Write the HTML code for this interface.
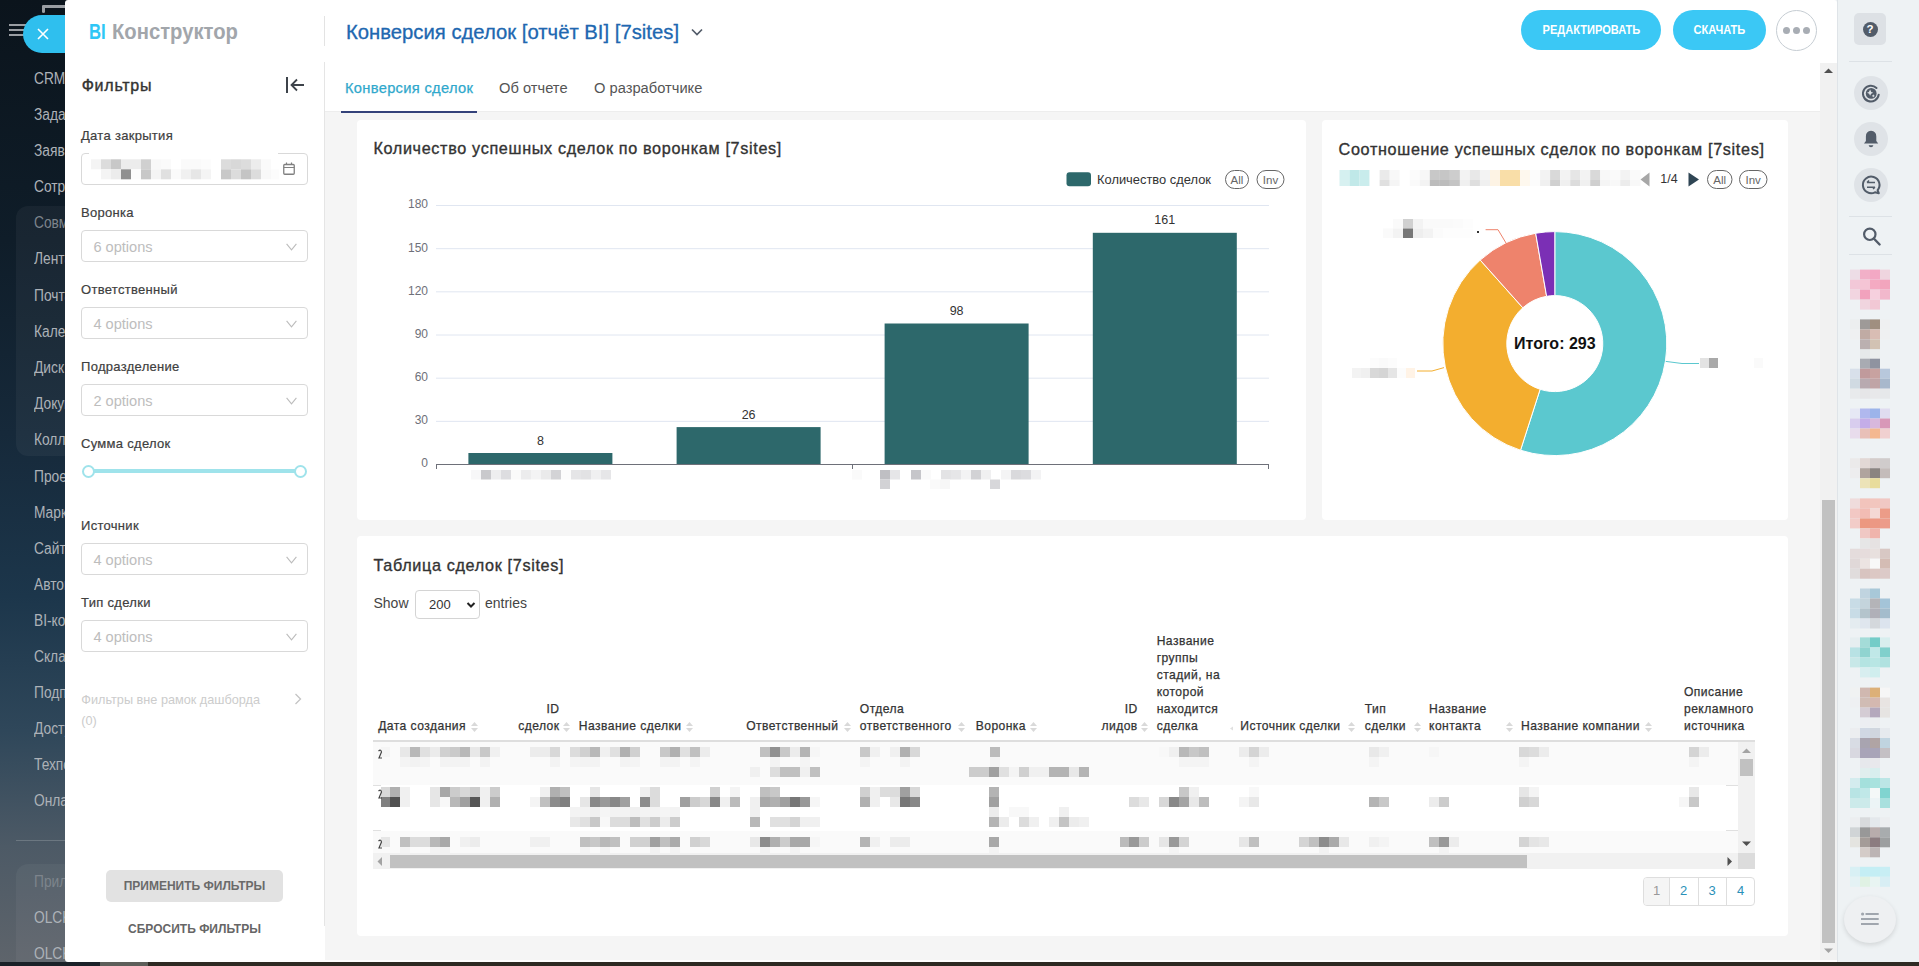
<!DOCTYPE html>
<html><head><meta charset="utf-8">
<style>
*{box-sizing:border-box}
html,body{margin:0;padding:0}
body{width:1919px;height:966px;overflow:hidden;position:relative;background:#0c161f;font-family:"Liberation Sans",sans-serif;color:#333}
.abs{position:absolute}
.t{position:absolute;white-space:nowrap}
.btn{position:absolute;top:10px;height:40px;border-radius:20px;background:#3bc8f5;color:#fff;font-weight:bold;font-size:13px;line-height:40px;text-align:center}
.btn span{display:inline-block;transform:scaleX(0.85)}
.lbl{position:absolute;left:81px;font-size:13px;line-height:13px;color:#404040;-webkit-text-stroke:0.2px #404040;margin-top:-0.8px;letter-spacing:0.3px;white-space:nowrap}
.box{position:absolute;left:81px;width:227px;height:32px;border:1px solid #d9d9d9;border-radius:4px;background:#fff}
.box span{position:absolute;left:11.4px;top:8.5px;font-size:14.6px;line-height:14.6px;color:#bdbdbd;white-space:nowrap}
.box svg{position:absolute;left:204px;top:12px}
.tab{top:80.9px;font-size:14.7px;line-height:15px;color:#555}
.tab:first-of-type{}
.ctitle{font-size:16.2px;line-height:16.2px;color:#333;-webkit-text-stroke:0.35px #333;letter-spacing:0.66px}
.th{font-size:12.1px;line-height:16.9px;color:#333;-webkit-text-stroke:0.25px #333;letter-spacing:0.45px}
.pg{top:6px;text-align:center;font-size:13px;line-height:14px;color:#2a90b8}
.card{position:absolute;background:#fff;border-radius:4px}

#nav{left:0;top:0;width:70px;height:962px;background:linear-gradient(180deg,#0b141c 0%,#0f1d29 25%,#16293a 45%,#1c364b 62%,#2f475a 76%,#4d5a66 88%,#5e646b 100%)}
#nav .it{position:absolute;left:34px;font-size:16px;color:#adb2b8;white-space:nowrap;line-height:18px;margin-top:0.5px;transform:scaleX(0.86);transform-origin:0 0}
#nav .dim{color:#7d848c}
#strip{left:0;top:962px;width:1919px;height:4px;background:#2e2a23}
#panel{left:65px;top:0;width:1772px;height:962px;background:#fff;border-radius:3px 3px 0 3px;overflow:hidden}
#rbar{left:1837px;top:0;width:82px;height:962px;background:#eef2f4;border-left:1px solid #dfe4e8}
</style></head>
<body>
<div id="nav" class="abs">
  <div class="abs" style="left:9px;top:24px;width:17px;height:2px;background:#9a9ea3"></div>
  <div class="abs" style="left:9px;top:29px;width:17px;height:2px;background:#9a9ea3"></div>
  <div class="abs" style="left:9px;top:34px;width:17px;height:2px;background:#9a9ea3"></div>
  <div class="abs" style="left:16px;top:206px;width:60px;height:250px;border-radius:12px;background:rgba(255,255,255,0.045)"></div>
  <div class="abs" style="left:16px;top:864px;width:60px;height:110px;border-radius:12px;background:rgba(255,255,255,0.045)"></div>
  <div class="abs" style="left:16px;top:840px;width:60px;height:1px;background:rgba(255,255,255,0.18)"></div>
  <div class="it" style="top:69px">CRM</div>
  <div class="it" style="top:105px">Задачи</div>
  <div class="it" style="top:141px">Заявки</div>
  <div class="it" style="top:177px">Сотрудники</div>
  <div class="it dim" style="top:213px">Совместная</div>
  <div class="it" style="top:249px">Лента</div>
  <div class="it" style="top:286px">Почта</div>
  <div class="it" style="top:322px">Календарь</div>
  <div class="it" style="top:358px">Диск</div>
  <div class="it" style="top:394px">Документы</div>
  <div class="it" style="top:430px">Коллеги</div>
  <div class="it" style="top:467px">Проекты</div>
  <div class="it" style="top:503px">Маркетинг</div>
  <div class="it" style="top:539px">Сайты</div>
  <div class="it" style="top:575px">Автоматизация</div>
  <div class="it" style="top:611px">BI-конструктор</div>
  <div class="it" style="top:647px">Склад</div>
  <div class="it" style="top:683px">Подписка</div>
  <div class="it" style="top:719px">Доступ</div>
  <div class="it" style="top:755px">Техподдержка</div>
  <div class="it" style="top:791px">Онлайн</div>
  <div class="it dim" style="top:872px">Приложения</div>
  <div class="it" style="top:908px">OLCK</div>
  <div class="it" style="top:944px">OLCK</div>
</div>
<div id="strip" class="abs"></div>
<div class="abs" style="left:0;top:962px;width:100px;height:4px;background:#1a2128"></div>
<div class="abs" style="left:100px;top:962px;width:48px;height:4px;background:#5d5f5a"></div>
<!-- close pill -->
<div class="abs" style="left:23px;top:15px;width:70px;height:38px;border-radius:19px;background:#2fbfee"></div>
<div class="abs" style="left:42px;top:5px;width:30px;height:3px;background:#9a9ea3;border-radius:2px"></div>
<div class="abs" style="left:42px;top:5px;width:3px;height:8px;background:#9a9ea3;border-radius:2px"></div>
<svg class="abs" style="left:37px;top:28px" width="12" height="12" viewBox="0 0 12 12"><path d="M1 1L11 11M11 1L1 11" stroke="#fff" stroke-width="1.6"/></svg>

<div class="abs" style="left:1800px;top:0;width:60px;height:20px;background:#eef2f4"></div>
<div id="panel" class="abs"></div>
<!-- header -->
<div class="t" style="left:88.6px;top:20.6px;font-size:22px;line-height:22px;font-weight:bold;color:#2fc6f6;transform:scaleX(0.76);transform-origin:0 0">BI</div>
<div class="t" style="left:111.7px;top:20.6px;font-size:22px;line-height:22px;font-weight:bold;color:#a2a6ab;transform:scaleX(0.92);transform-origin:0 0">Конструктор</div>
<div class="abs" style="left:324px;top:16px;width:1px;height:30px;background:#e3e3e3"></div>
<div class="t" style="left:345.9px;top:22.3px;font-size:20.3px;line-height:20px;color:#2067b0;-webkit-text-stroke:0.3px #2067b0">Конверсия сделок [отчёт BI] [7sites]</div>
<svg class="abs" style="left:690px;top:27px" width="14" height="10" viewBox="0 0 14 10"><path d="M2 2.5L7 7.5L12 2.5" fill="none" stroke="#535c69" stroke-width="1.7"/></svg>
<div class="btn" style="left:1521px;width:140px"><span>РЕДАКТИРОВАТЬ</span></div>
<div class="btn" style="left:1673px;width:93px"><span>СКАЧАТЬ</span></div>
<div class="abs" style="left:1776px;top:10px;width:41px;height:41px;border-radius:50%;border:1px solid #c6cdd3;background:#fff"></div>
<div class="abs" style="left:1783px;top:27px;width:7px;height:7px;border-radius:50%;background:#a8adb4"></div>
<div class="abs" style="left:1793px;top:27px;width:7px;height:7px;border-radius:50%;background:#a8adb4"></div>
<div class="abs" style="left:1803px;top:27px;width:7px;height:7px;border-radius:50%;background:#a8adb4"></div>

<!-- filters -->
<div class="t" style="left:81.7px;top:77.5px;font-size:16px;line-height:16px;color:#333;-webkit-text-stroke:0.4px #333;letter-spacing:0.75px">Фильтры</div>
<div class="abs" style="left:286px;top:77px;width:2px;height:16px;background:#3d434a"></div>
<svg class="abs" style="left:289px;top:78px" width="16" height="14" viewBox="0 0 16 14"><path d="M15 7H2.5M8 1.5L2.5 7L8 12.5" fill="none" stroke="#3d434a" stroke-width="1.8"/></svg>
<div class="lbl" style="top:129.7px">Дата закрытия</div>
<div class="box" style="top:153px;height:32px"></div>
<div class="abs" style="left:89px;top:153px;width:189px;height:1px;background:#fff"></div>
<svg class="abs" style="left:283px;top:162px" width="12" height="13" viewBox="0 0 12 13"><rect x="0.75" y="2.5" width="10.5" height="9.75" rx="1" fill="none" stroke="#808080" stroke-width="1.3"/><path d="M0.75 5.5H11.25M3.5 0.5V3M8.5 0.5V3" stroke="#808080" stroke-width="1.2"/></svg>
<div class="lbl" style="top:206.8px">Воронка</div>
<div class="box" style="top:230px"><span>6 options</span><svg width="11" height="8" viewBox="0 0 11 8"><path d="M0.6 0.8L5.5 6.8L10.4 0.8" fill="none" stroke="#bcbcbc" stroke-width="1.1"/></svg></div>
<div class="lbl" style="top:283.3px">Ответственный</div>
<div class="box" style="top:307px"><span>4 options</span><svg width="11" height="8" viewBox="0 0 11 8"><path d="M0.6 0.8L5.5 6.8L10.4 0.8" fill="none" stroke="#bcbcbc" stroke-width="1.1"/></svg></div>
<div class="lbl" style="top:360.3px">Подразделение</div>
<div class="box" style="top:384px"><span>2 options</span><svg width="11" height="8" viewBox="0 0 11 8"><path d="M0.6 0.8L5.5 6.8L10.4 0.8" fill="none" stroke="#bcbcbc" stroke-width="1.1"/></svg></div>
<div class="lbl" style="top:437.3px">Сумма сделок</div>
<div class="abs" style="left:88px;top:469px;width:213px;height:4px;background:#9fe3eb"></div>
<div class="abs" style="left:81.5px;top:464.5px;width:13px;height:13px;border-radius:50%;border:2.5px solid #9fe3eb;background:#fff"></div>
<div class="abs" style="left:294px;top:464.5px;width:13px;height:13px;border-radius:50%;border:2.5px solid #9fe3eb;background:#fff"></div>
<div class="lbl" style="top:519.3px">Источник</div>
<div class="box" style="top:543px"><span>4 options</span><svg width="11" height="8" viewBox="0 0 11 8"><path d="M0.6 0.8L5.5 6.8L10.4 0.8" fill="none" stroke="#bcbcbc" stroke-width="1.1"/></svg></div>
<div class="lbl" style="top:596.3px">Тип сделки</div>
<div class="box" style="top:620px"><span>4 options</span><svg width="11" height="8" viewBox="0 0 11 8"><path d="M0.6 0.8L5.5 6.8L10.4 0.8" fill="none" stroke="#bcbcbc" stroke-width="1.1"/></svg></div>
<div class="t" style="left:81.3px;top:693.7px;font-size:12.7px;line-height:21px;color:#cccccc;margin-top:-4.2px">Фильтры вне рамок дашборда<br>(0)</div>
<svg class="abs" style="left:293px;top:692px" width="10" height="14" viewBox="0 0 10 14"><path d="M2.5 2L7.5 7L2.5 12" fill="none" stroke="#c4c4c4" stroke-width="1.3"/></svg>
<div class="abs" style="left:106px;top:870px;width:177px;height:32px;border-radius:5px;background:#e2e2e2"></div>
<div class="t" style="left:106px;width:177px;text-align:center;top:879.8px;font-size:12px;line-height:12px;font-weight:bold;color:#6a6a6a">ПРИМЕНИТЬ ФИЛЬТРЫ</div>
<div class="t" style="left:106px;width:177px;text-align:center;top:922.8px;font-size:12px;line-height:12px;font-weight:bold;color:#666">СБРОСИТЬ ФИЛЬТРЫ</div>
<div class="abs" style="left:324px;top:62px;width:1px;height:864px;background:#e5e5e5"></div>

<!-- content area -->
<div class="abs" style="left:325px;top:112px;width:1495px;height:848px;background:#f5f5f5"></div>
<div class="abs" style="left:325px;top:111px;width:1495px;height:1px;background:#ededed"></div>
<div class="t tab" style="left:345px;color:#2fa8cc;letter-spacing:0.3px;-webkit-text-stroke:0.25px #2fa8cc">Конверсия сделок</div>
<div class="t tab" style="left:499px">Об отчете</div>
<div class="t tab" style="left:594px">О разработчике</div>
<div class="abs" style="left:341px;top:111px;width:136px;height:2px;background:#34427a"></div>
<!-- page scrollbar -->
<div class="abs" style="left:1820px;top:63px;width:17px;height:897px;background:#f1f1f1"></div>
<div class="abs" style="left:1822px;top:500px;width:13px;height:443px;background:#c1c1c1"></div>
<svg class="abs" style="left:1824px;top:68px" width="9" height="6" viewBox="0 0 9 6"><path d="M0 5L4.5 0.5L9 5Z" fill="#505050"/></svg>
<svg class="abs" style="left:1824px;top:948px" width="9" height="6" viewBox="0 0 9 6"><path d="M0 0.5L4.5 5L9 0.5Z" fill="#a3a3a3"/></svg>

<!-- cards -->
<div class="card" style="left:357px;top:120px;width:949px;height:400px"></div>
<svg class="abs" style="left:357px;top:120px" width="949" height="400" viewBox="357 120 949 400">
<line x1="436" y1="205.50" x2="1269" y2="205.50" stroke="#e0e6f1" stroke-width="1"/>
<line x1="436" y1="248.67" x2="1269" y2="248.67" stroke="#e0e6f1" stroke-width="1"/>
<line x1="436" y1="291.84" x2="1269" y2="291.84" stroke="#e0e6f1" stroke-width="1"/>
<line x1="436" y1="335.01" x2="1269" y2="335.01" stroke="#e0e6f1" stroke-width="1"/>
<line x1="436" y1="378.18" x2="1269" y2="378.18" stroke="#e0e6f1" stroke-width="1"/>
<line x1="436" y1="421.35" x2="1269" y2="421.35" stroke="#e0e6f1" stroke-width="1"/>
<text x="428" y="208.3" text-anchor="end" font-size="12" fill="#6e7079">180</text>
<text x="428" y="251.5" text-anchor="end" font-size="12" fill="#6e7079">150</text>
<text x="428" y="294.6" text-anchor="end" font-size="12" fill="#6e7079">120</text>
<text x="428" y="337.8" text-anchor="end" font-size="12" fill="#6e7079">90</text>
<text x="428" y="381.0" text-anchor="end" font-size="12" fill="#6e7079">60</text>
<text x="428" y="424.2" text-anchor="end" font-size="12" fill="#6e7079">30</text>
<text x="428" y="467.3" text-anchor="end" font-size="12" fill="#6e7079">0</text>
<rect x="436" y="464" width="833" height="1" fill="#6e7079"/>
<rect x="436.0" y="464" width="1" height="5" fill="#6e7079"/>
<rect x="852.0" y="464" width="1" height="5" fill="#6e7079"/>
<rect x="1268.0" y="464" width="1" height="5" fill="#6e7079"/>
<rect x="468.4" y="453.0" width="144" height="11.0" fill="#2d686b"/>
<text x="540.4" y="444.5" text-anchor="middle" font-size="12.5" fill="#333">8</text>
<rect x="676.6" y="427.1" width="144" height="36.9" fill="#2d686b"/>
<text x="748.6" y="418.6" text-anchor="middle" font-size="12.5" fill="#333">26</text>
<rect x="884.6" y="323.5" width="144" height="140.5" fill="#2d686b"/>
<text x="956.6" y="315.0" text-anchor="middle" font-size="12.5" fill="#333">98</text>
<rect x="1092.8" y="232.8" width="144" height="231.2" fill="#2d686b"/>
<text x="1164.8" y="224.3" text-anchor="middle" font-size="12.5" fill="#333">161</text>
<rect x="1066.5" y="172.3" width="24.5" height="14" rx="3" fill="#2d686b"/>
<text x="1097" y="184" font-size="12.9" fill="#333">Количество сделок</text>
<rect x="1225.5" y="170.5" width="23" height="18" rx="9" fill="none" stroke="#666" stroke-width="1"/>
<text x="1237" y="183.5" text-anchor="middle" font-size="11.5" fill="#666">All</text>
<rect x="1257" y="170.5" width="27" height="18" rx="9" fill="none" stroke="#666" stroke-width="1"/>
<text x="1270.5" y="183.5" text-anchor="middle" font-size="11.5" fill="#666">Inv</text>
<rect x="471" y="470" width="10" height="9.5" fill="#f7f7f8"/>
<rect x="481" y="470" width="10" height="9.5" fill="#c9c9cc"/>
<rect x="491" y="470" width="10" height="9.5" fill="#eeeeef"/>
<rect x="501" y="470" width="10" height="9.5" fill="#dddde0"/>
<rect x="511" y="470" width="10" height="9.5" fill="#fafafa"/>
<rect x="521" y="470" width="10" height="9.5" fill="#ececed"/>
<rect x="531" y="470" width="10" height="9.5" fill="#f3f3f4"/>
<rect x="541" y="470" width="10" height="9.5" fill="#eaeaeb"/>
<rect x="551" y="470" width="10" height="9.5" fill="#d3d3d6"/>
<rect x="561" y="470" width="10" height="9.5" fill="#fcfcfc"/>
<rect x="571" y="470" width="10" height="9.5" fill="#e5e5e7"/>
<rect x="581" y="470" width="10" height="9.5" fill="#e2e2e4"/>
<rect x="591" y="470" width="10" height="9.5" fill="#f0f0f1"/>
<rect x="601" y="470" width="10" height="9.5" fill="#e6e6e8"/>
<rect x="852" y="470" width="10" height="9.5" fill="#fafafa"/>
<rect x="880" y="470" width="10" height="9.5" fill="#bfbfc3"/>
<rect x="890" y="470" width="10" height="9.5" fill="#e6e6e8"/>
<rect x="911" y="470" width="10" height="9.5" fill="#c6c6ca"/>
<rect x="921" y="470" width="10" height="9.5" fill="#fafafa"/>
<rect x="941" y="470" width="10" height="9.5" fill="#e3e3e5"/>
<rect x="951" y="470" width="10" height="9.5" fill="#e6e6e8"/>
<rect x="961" y="470" width="10" height="9.5" fill="#f3f3f4"/>
<rect x="971" y="470" width="10" height="9.5" fill="#d2d2d5"/>
<rect x="981" y="470" width="10" height="9.5" fill="#f0f0f1"/>
<rect x="1001" y="470" width="10" height="9.5" fill="#f4f4f5"/>
<rect x="1011" y="470" width="10" height="9.5" fill="#d9d9dc"/>
<rect x="1021" y="470" width="10" height="9.5" fill="#dcdcdf"/>
<rect x="1031" y="470" width="10" height="9.5" fill="#f3f3f4"/>
<rect x="880" y="479.5" width="10" height="9.5" fill="#d2d2d5"/>
<rect x="930" y="479.5" width="10" height="9.5" fill="#fafafa"/>
<rect x="940" y="479.5" width="10" height="9.5" fill="#f7f7f7"/>
<rect x="990" y="479.5" width="10" height="9.5" fill="#d7d7da"/>
</svg>
<div class="t ctitle" style="left:373.4px;top:140.4px">Количество успешных сделок по воронкам [7sites]</div>
<div class="card" style="left:1322px;top:120px;width:466px;height:400px"></div>
<svg class="abs" style="left:1322px;top:120px" width="466" height="400" viewBox="1322 120 466 400">
<path d="M1554.80 231.60A112 112 0 1 1 1520.53 450.23L1540.11 389.30A48 48 0 1 0 1554.80 295.60Z" fill="#5bc8cf" stroke="#fff" stroke-width="1"/>
<path d="M1520.53 450.23A112 112 0 0 1 1480.19 260.07L1522.82 307.80A48 48 0 0 0 1540.11 389.30Z" fill="#f3ae2f" stroke="#fff" stroke-width="1"/>
<path d="M1480.19 260.07A112 112 0 0 1 1535.68 233.24L1546.61 296.30A48 48 0 0 0 1522.82 307.80Z" fill="#ee836c" stroke="#fff" stroke-width="1"/>
<path d="M1535.68 233.24A112 112 0 0 1 1554.80 231.60L1554.80 295.60A48 48 0 0 0 1546.61 296.30Z" fill="#7b2fb5" stroke="#fff" stroke-width="1"/>
<text x="1554.8" y="348.5" text-anchor="middle" font-size="16" font-weight="bold" fill="#111">Итого: 293</text>
<polyline points="1506,243 1498,229.7 1485.6,229.7" fill="none" stroke="#ee836c" stroke-width="1"/>
<polyline points="1444,367.6 1432,371 1417,371" fill="none" stroke="#f3ae2f" stroke-width="1"/>
<polyline points="1665.8,361.4 1682,363.5 1699,363.5" fill="none" stroke="#5bc8cf" stroke-width="1"/>
<rect x="1393" y="219.0" width="10" height="9.5" fill="#fafafa"/>
<rect x="1403" y="219.0" width="10" height="9.5" fill="#d0d0d0"/>
<rect x="1413" y="219.0" width="10" height="9.5" fill="#f3f3f3"/>
<rect x="1423" y="219.0" width="10" height="9.5" fill="#fafafa"/>
<rect x="1433" y="219.0" width="10" height="9.5" fill="#fafafa"/>
<rect x="1443" y="219.0" width="10" height="9.5" fill="#fafafa"/>
<rect x="1453" y="219.0" width="10" height="9.5" fill="#fbfbfb"/>
<rect x="1463" y="219.0" width="10" height="9.5" fill="#fdfdfd"/>
<rect x="1383" y="228.5" width="10" height="9.5" fill="#fafafa"/>
<rect x="1393" y="228.5" width="10" height="9.5" fill="#f3f3f3"/>
<rect x="1403" y="228.5" width="10" height="9.5" fill="#777"/>
<rect x="1413" y="228.5" width="10" height="9.5" fill="#eeeeee"/>
<rect x="1423" y="228.5" width="10" height="9.5" fill="#f3f3f3"/>
<rect x="1433" y="228.5" width="10" height="9.5" fill="#fbfbfb"/>
<rect x="1443" y="228.5" width="10" height="9.5" fill="#fdfdfd"/>
<rect x="1453" y="228.5" width="10" height="9.5" fill="#fdfdfd"/>
<rect x="1463" y="228.5" width="10" height="9.5" fill="#fdfdfd"/>
<rect x="1477" y="231" width="2" height="2" fill="#333"/>
<rect x="1370" y="358" width="9" height="10" fill="#fcfcfc"/>
<rect x="1379" y="358" width="9" height="10" fill="#fafafa"/>
<rect x="1388" y="358" width="9" height="10" fill="#fcfcfc"/>
<rect x="1352" y="368" width="9" height="10" fill="#f3f3f3"/>
<rect x="1361" y="368" width="9" height="10" fill="#f0f0f0"/>
<rect x="1370" y="368" width="9" height="10" fill="#d8d8d8"/>
<rect x="1379" y="368" width="9" height="10" fill="#d5d5d5"/>
<rect x="1388" y="368" width="9" height="10" fill="#e5e5e5"/>
<rect x="1397" y="368" width="9" height="10" fill="#fcfcfc"/>
<rect x="1406" y="368" width="9" height="10" fill="#fff3e6"/>
<rect x="1700" y="358" width="9" height="10" fill="#e3e3e3"/>
<rect x="1709" y="358" width="9" height="10" fill="#a9a9a9"/>
<rect x="1754" y="358" width="9" height="10" fill="#fafafa"/>
<rect x="1339.5" y="170" width="10.1" height="10" fill="#d5f0f0"/>
<rect x="1339.5" y="180" width="10.1" height="6" fill="#d8f1f1"/>
<rect x="1349.5" y="170" width="10.1" height="10" fill="#bfe8e8"/>
<rect x="1349.5" y="180" width="10.1" height="6" fill="#c2e9e9"/>
<rect x="1359.6" y="170" width="10.1" height="10" fill="#c8ecec"/>
<rect x="1359.6" y="180" width="10.1" height="6" fill="#cbeded"/>
<rect x="1369.6" y="170" width="10.1" height="10" fill="#ffffff"/>
<rect x="1369.6" y="180" width="10.1" height="6" fill="#ffffff"/>
<rect x="1379.6" y="170" width="10.1" height="10" fill="#eaeaea"/>
<rect x="1379.6" y="180" width="10.1" height="6" fill="#e0e0e0"/>
<rect x="1389.7" y="170" width="10.1" height="10" fill="#f8f8f8"/>
<rect x="1389.7" y="180" width="10.1" height="6" fill="#f5f5f5"/>
<rect x="1399.7" y="170" width="10.1" height="10" fill="#ffffff"/>
<rect x="1399.7" y="180" width="10.1" height="6" fill="#ffffff"/>
<rect x="1409.7" y="170" width="10.1" height="10" fill="#fcfcfc"/>
<rect x="1409.7" y="180" width="10.1" height="6" fill="#fafafa"/>
<rect x="1419.7" y="170" width="10.1" height="10" fill="#f7f7f7"/>
<rect x="1419.7" y="180" width="10.1" height="6" fill="#f3f3f3"/>
<rect x="1429.8" y="170" width="10.1" height="10" fill="#c8c8c8"/>
<rect x="1429.8" y="180" width="10.1" height="6" fill="#bcbcbc"/>
<rect x="1439.8" y="170" width="10.1" height="10" fill="#c6c6c6"/>
<rect x="1439.8" y="180" width="10.1" height="6" fill="#bcbcbc"/>
<rect x="1449.8" y="170" width="10.1" height="10" fill="#cdcdcd"/>
<rect x="1449.8" y="180" width="10.1" height="6" fill="#c4c4c4"/>
<rect x="1459.9" y="170" width="10.1" height="10" fill="#f3f3f3"/>
<rect x="1459.9" y="180" width="10.1" height="6" fill="#f0f0f0"/>
<rect x="1469.9" y="170" width="10.1" height="10" fill="#e8e8e8"/>
<rect x="1469.9" y="180" width="10.1" height="6" fill="#dedede"/>
<rect x="1479.9" y="170" width="10.1" height="10" fill="#f3f3f3"/>
<rect x="1479.9" y="180" width="10.1" height="6" fill="#f0f0f0"/>
<rect x="1490.0" y="170" width="10.1" height="10" fill="#fdf3e4"/>
<rect x="1490.0" y="180" width="10.1" height="6" fill="#fdf3e4"/>
<rect x="1500.0" y="170" width="10.1" height="10" fill="#f9dea8"/>
<rect x="1500.0" y="180" width="10.1" height="6" fill="#f9dea8"/>
<rect x="1510.0" y="170" width="10.1" height="10" fill="#f9dea8"/>
<rect x="1510.0" y="180" width="10.1" height="6" fill="#f9dea8"/>
<rect x="1520.0" y="170" width="10.1" height="10" fill="#fef8ee"/>
<rect x="1520.0" y="180" width="10.1" height="6" fill="#fef8ee"/>
<rect x="1530.1" y="170" width="10.1" height="10" fill="#fcfcfc"/>
<rect x="1530.1" y="180" width="10.1" height="6" fill="#fcfcfc"/>
<rect x="1540.1" y="170" width="10.1" height="10" fill="#f3f3f3"/>
<rect x="1540.1" y="180" width="10.1" height="6" fill="#f0f0f0"/>
<rect x="1550.1" y="170" width="10.1" height="10" fill="#d9d9d9"/>
<rect x="1550.1" y="180" width="10.1" height="6" fill="#d0d0d0"/>
<rect x="1560.2" y="170" width="10.1" height="10" fill="#f3f3f3"/>
<rect x="1560.2" y="180" width="10.1" height="6" fill="#f0f0f0"/>
<rect x="1570.2" y="170" width="10.1" height="10" fill="#e6e6e6"/>
<rect x="1570.2" y="180" width="10.1" height="6" fill="#dcdcdc"/>
<rect x="1580.2" y="170" width="10.1" height="10" fill="#f3f3f3"/>
<rect x="1580.2" y="180" width="10.1" height="6" fill="#f0f0f0"/>
<rect x="1590.2" y="170" width="10.1" height="10" fill="#d9d9d9"/>
<rect x="1590.2" y="180" width="10.1" height="6" fill="#cfcfcf"/>
<rect x="1600.3" y="170" width="10.1" height="10" fill="#f8f8f8"/>
<rect x="1600.3" y="180" width="10.1" height="6" fill="#f5f5f5"/>
<rect x="1610.3" y="170" width="10.1" height="10" fill="#fafafa"/>
<rect x="1610.3" y="180" width="10.1" height="6" fill="#f8f8f8"/>
<rect x="1620.3" y="170" width="10.1" height="10" fill="#f3f3f3"/>
<rect x="1620.3" y="180" width="10.1" height="6" fill="#ececec"/>
<rect x="1630.4" y="170" width="10.1" height="10" fill="#fafafa"/>
<rect x="1630.4" y="180" width="10.1" height="6" fill="#f8f8f8"/>
<path d="M1649.5 172.5L1640.5 179.5L1649.5 186.5Z" fill="#a7a7a7"/>
<text x="1669" y="182.5" text-anchor="middle" font-size="12.5" fill="#333">1/4</text>
<path d="M1688.5 172.5L1699 179.5L1688.5 186.5Z" fill="#2f4554"/>
<rect x="1707.5" y="170.5" width="24.5" height="18" rx="9" fill="none" stroke="#666" stroke-width="1"/>
<text x="1719.7" y="183.5" text-anchor="middle" font-size="11.5" fill="#666">All</text>
<rect x="1739.5" y="170.5" width="27.5" height="18" rx="9" fill="none" stroke="#666" stroke-width="1"/>
<text x="1753.2" y="183.5" text-anchor="middle" font-size="11.5" fill="#666">Inv</text>
</svg>
<div class="t ctitle" style="left:1338.6px;top:141.3px">Соотношение успешных сделок по воронкам [7sites]</div>
<div class="card" style="left:357px;top:536px;width:1431px;height:400px"></div>

<div id="rbar" class="abs">
</div>
<div class="t ctitle" style="left:373.5px;top:556.6px">Таблица сделок [7sites]</div>
<div class="t" style="left:373.5px;top:595.7px;font-size:14px;line-height:14px;color:#444">Show</div>
<div class="abs" style="left:415px;top:590px;width:65px;height:29px;border:1px solid #d4d4d4;border-radius:4px;background:#fff"></div>
<div class="t" style="left:429px;top:597.5px;font-size:13px;line-height:13px;color:#333">200</div>
<svg class="abs" style="left:466px;top:601px" width="10" height="8" viewBox="0 0 10 8"><path d="M1.5 2L5 5.5L8.5 2" fill="none" stroke="#222" stroke-width="2"/></svg>
<div class="t" style="left:485px;top:595.7px;font-size:14px;line-height:14px;color:#444">entries</div>
<div class="t th" style="left:378.2px;top:717.5px">Дата создания</div>
<svg class="abs" style="left:471px;top:722px" width="7" height="10" viewBox="0 0 7 10"><path d="M3.5 0L7 4H0Z M3.5 10L7 6H0Z" fill="#d9d9d9"/></svg>
<div class="t th" style="right:1359.5px;top:700.6px;text-align:right">ID<br>сделок</div>
<svg class="abs" style="left:563px;top:722px" width="7" height="10" viewBox="0 0 7 10"><path d="M3.5 0L7 4H0Z M3.5 10L7 6H0Z" fill="#d9d9d9"/></svg>
<div class="t th" style="left:578.8px;top:717.5px">Название сделки</div>
<svg class="abs" style="left:686px;top:722px" width="7" height="10" viewBox="0 0 7 10"><path d="M3.5 0L7 4H0Z M3.5 10L7 6H0Z" fill="#d9d9d9"/></svg>
<div class="t th" style="right:1080.6px;top:717.5px;text-align:right">Ответственный</div>
<svg class="abs" style="left:843.5px;top:722px" width="7" height="10" viewBox="0 0 7 10"><path d="M3.5 0L7 4H0Z M3.5 10L7 6H0Z" fill="#d9d9d9"/></svg>
<div class="t th" style="left:859.8px;top:700.6px">Отдела<br>ответственного</div>
<svg class="abs" style="left:958px;top:722px" width="7" height="10" viewBox="0 0 7 10"><path d="M3.5 0L7 4H0Z M3.5 10L7 6H0Z" fill="#d9d9d9"/></svg>
<div class="t th" style="left:975.7px;top:717.5px">Воронка</div>
<svg class="abs" style="left:1030px;top:722px" width="7" height="10" viewBox="0 0 7 10"><path d="M3.5 0L7 4H0Z M3.5 10L7 6H0Z" fill="#d9d9d9"/></svg>
<div class="t th" style="right:781.3px;top:700.6px;text-align:right">ID<br>лидов</div>
<svg class="abs" style="left:1141px;top:722px" width="7" height="10" viewBox="0 0 7 10"><path d="M3.5 0L7 4H0Z M3.5 10L7 6H0Z" fill="#d9d9d9"/></svg>
<div class="t th" style="left:1156.7px;top:633.0px">Название<br>группы<br>стадий, на<br>которой<br>находится<br>сделка</div>
<div class="t th" style="left:1240.3px;top:717.5px">Источник сделки</div>
<svg class="abs" style="left:1348px;top:722px" width="7" height="10" viewBox="0 0 7 10"><path d="M3.5 0L7 4H0Z M3.5 10L7 6H0Z" fill="#d9d9d9"/></svg>
<div class="t th" style="left:1364.8px;top:700.6px">Тип<br>сделки</div>
<svg class="abs" style="left:1414px;top:722px" width="7" height="10" viewBox="0 0 7 10"><path d="M3.5 0L7 4H0Z M3.5 10L7 6H0Z" fill="#d9d9d9"/></svg>
<div class="t th" style="left:1429px;top:700.6px">Название<br>контакта</div>
<svg class="abs" style="left:1505.8px;top:722px" width="7" height="10" viewBox="0 0 7 10"><path d="M3.5 0L7 4H0Z M3.5 10L7 6H0Z" fill="#d9d9d9"/></svg>
<div class="t th" style="left:1521px;top:717.5px">Название компании</div>
<svg class="abs" style="left:1645px;top:722px" width="7" height="10" viewBox="0 0 7 10"><path d="M3.5 0L7 4H0Z M3.5 10L7 6H0Z" fill="#d9d9d9"/></svg>
<div class="t th" style="left:1684px;top:683.7px">Описание<br>рекламного<br>источника</div>
<svg class="abs" style="left:1230px;top:722px" width="3" height="10" viewBox="0 0 3 10"><path d="M3 4.5L0 6.5L3 8.5Z" fill="#e0e0e0"/></svg>
<div class="abs" style="left:373px;top:740px;width:1382px;height:2px;background:#dedede"></div>
<div class="abs" style="left:373px;top:742px;width:1365px;height:43px;background:#fafafa"></div>
<div class="abs" style="left:373px;top:785px;width:8px;height:1px;background:#e0e0e0"></div><div class="abs" style="left:1726px;top:785px;width:12px;height:1px;background:#e0e0e0"></div>
<div class="abs" style="left:373px;top:786px;width:1365px;height:44px;background:#fff"></div>
<div class="abs" style="left:373px;top:830px;width:8px;height:1px;background:#e0e0e0"></div><div class="abs" style="left:1726px;top:830px;width:12px;height:1px;background:#e0e0e0"></div>
<div class="abs" style="left:373px;top:831px;width:1365px;height:22px;background:#fafafa"></div>
<svg class="abs" style="left:373px;top:742px" width="1365" height="111" viewBox="373 742 1365 111">
<rect x="381.0" y="747" width="9" height="10" fill="#f5f5f5"/>
<rect x="390.0" y="747" width="10" height="10" fill="#fafafa"/>
<rect x="400.0" y="747" width="10" height="10" fill="#e8e8e8"/>
<rect x="410.0" y="747" width="10" height="10" fill="#b8b8b8"/>
<rect x="420.0" y="747" width="10" height="10" fill="#e0e0e0"/>
<rect x="430.0" y="747" width="10" height="10" fill="#ebebeb"/>
<rect x="440.0" y="747" width="10" height="10" fill="#d0d0d0"/>
<rect x="450.0" y="747" width="10" height="10" fill="#cacaca"/>
<rect x="460.0" y="747" width="10" height="10" fill="#b8b8b8"/>
<rect x="470.0" y="747" width="10" height="10" fill="#e8e8e8"/>
<rect x="480.0" y="747" width="10" height="10" fill="#c8c8c8"/>
<rect x="490.0" y="747" width="10" height="10" fill="#f0f0f0"/>
<rect x="530.0" y="747" width="10" height="10" fill="#ececec"/>
<rect x="540.0" y="747" width="10" height="10" fill="#ececec"/>
<rect x="550.0" y="747" width="10" height="10" fill="#d8d8d8"/>
<rect x="570.0" y="747" width="10" height="10" fill="#dcdcdc"/>
<rect x="580.0" y="747" width="10" height="10" fill="#d0d0d0"/>
<rect x="590.0" y="747" width="10" height="10" fill="#b8b8b8"/>
<rect x="600.0" y="747" width="10" height="10" fill="#f0f0f0"/>
<rect x="610.0" y="747" width="10" height="10" fill="#e0e0e0"/>
<rect x="620.0" y="747" width="10" height="10" fill="#b0b0b0"/>
<rect x="630.0" y="747" width="10" height="10" fill="#d0d0d0"/>
<rect x="660.0" y="747" width="10" height="10" fill="#c8c8c8"/>
<rect x="670.0" y="747" width="10" height="10" fill="#b0b0b0"/>
<rect x="680.0" y="747" width="10" height="10" fill="#e0e0e0"/>
<rect x="690.0" y="747" width="10" height="10" fill="#c0c0c0"/>
<rect x="700.0" y="747" width="10" height="10" fill="#ececec"/>
<rect x="760.0" y="747" width="10" height="10" fill="#c0c0c0"/>
<rect x="770.0" y="747" width="10" height="10" fill="#909090"/>
<rect x="780.0" y="747" width="10" height="10" fill="#c8c8c8"/>
<rect x="790.0" y="747" width="10" height="10" fill="#ececec"/>
<rect x="800.0" y="747" width="10" height="10" fill="#b4b4b4"/>
<rect x="810.0" y="747" width="10" height="10" fill="#f6f6f6"/>
<rect x="860.0" y="747" width="10" height="10" fill="#c8c8c8"/>
<rect x="870.0" y="747" width="10" height="10" fill="#f0f0f0"/>
<rect x="890.0" y="747" width="10" height="10" fill="#f0f0f0"/>
<rect x="900.0" y="747" width="10" height="10" fill="#b0b0b0"/>
<rect x="910.0" y="747" width="10" height="10" fill="#d8d8d8"/>
<rect x="990.0" y="747" width="10" height="10" fill="#bbbbbb"/>
<rect x="1159.0" y="747" width="10" height="10" fill="#f8f8f8"/>
<rect x="1169.0" y="747" width="10" height="10" fill="#f0f0f0"/>
<rect x="1179.0" y="747" width="10" height="10" fill="#b8b8b8"/>
<rect x="1189.0" y="747" width="10" height="10" fill="#c8c8c8"/>
<rect x="1199.0" y="747" width="10" height="10" fill="#c0c0c0"/>
<rect x="1239.0" y="747" width="10" height="10" fill="#ececec"/>
<rect x="1249.0" y="747" width="10" height="10" fill="#d4d4d4"/>
<rect x="1259.0" y="747" width="10" height="10" fill="#ececec"/>
<rect x="1369.0" y="747" width="10" height="10" fill="#e8e8e8"/>
<rect x="1379.0" y="747" width="10" height="10" fill="#f0f0f0"/>
<rect x="1429.0" y="747" width="10" height="10" fill="#f6f6f6"/>
<rect x="1519.0" y="747" width="10" height="10" fill="#d8d8d8"/>
<rect x="1529.0" y="747" width="10" height="10" fill="#dcdcdc"/>
<rect x="1539.0" y="747" width="10" height="10" fill="#ececec"/>
<rect x="1679.0" y="747" width="10" height="10" fill="#fafafa"/>
<rect x="1689.0" y="747" width="10" height="10" fill="#d4d4d4"/>
<rect x="1699.0" y="747" width="10" height="10" fill="#ececec"/>
<rect x="400.0" y="757" width="10" height="10" fill="#f4f4f4"/>
<rect x="410.0" y="757" width="10" height="10" fill="#f2f2f2"/>
<rect x="420.0" y="757" width="10" height="10" fill="#f4f4f4"/>
<rect x="440.0" y="757" width="10" height="10" fill="#f3f3f3"/>
<rect x="450.0" y="757" width="10" height="10" fill="#f3f3f3"/>
<rect x="460.0" y="757" width="10" height="10" fill="#f3f3f3"/>
<rect x="480.0" y="757" width="10" height="10" fill="#f3f3f3"/>
<rect x="550.0" y="757" width="10" height="10" fill="#f3f3f3"/>
<rect x="570.0" y="757" width="10" height="10" fill="#f4f4f4"/>
<rect x="580.0" y="757" width="10" height="10" fill="#f3f3f3"/>
<rect x="590.0" y="757" width="10" height="10" fill="#f3f3f3"/>
<rect x="620.0" y="757" width="10" height="10" fill="#f3f3f3"/>
<rect x="630.0" y="757" width="10" height="10" fill="#f4f4f4"/>
<rect x="660.0" y="757" width="10" height="10" fill="#f3f3f3"/>
<rect x="670.0" y="757" width="10" height="10" fill="#f3f3f3"/>
<rect x="690.0" y="757" width="10" height="10" fill="#f4f4f4"/>
<rect x="770.0" y="757" width="10" height="10" fill="#f3f3f3"/>
<rect x="800.0" y="757" width="10" height="10" fill="#f4f4f4"/>
<rect x="860.0" y="757" width="10" height="10" fill="#f4f4f4"/>
<rect x="900.0" y="757" width="10" height="10" fill="#f3f3f3"/>
<rect x="990.0" y="757" width="10" height="10" fill="#f3f3f3"/>
<rect x="1179.0" y="757" width="10" height="10" fill="#f4f4f4"/>
<rect x="1189.0" y="757" width="10" height="10" fill="#f4f4f4"/>
<rect x="1199.0" y="757" width="10" height="10" fill="#f4f4f4"/>
<rect x="1249.0" y="757" width="10" height="10" fill="#f4f4f4"/>
<rect x="1369.0" y="757" width="10" height="10" fill="#f4f4f4"/>
<rect x="1519.0" y="757" width="10" height="10" fill="#f4f4f4"/>
<rect x="1689.0" y="757" width="10" height="10" fill="#f4f4f4"/>
<rect x="750.0" y="767" width="10" height="10" fill="#f0f0f0"/>
<rect x="770.0" y="767" width="10" height="10" fill="#dddddd"/>
<rect x="780.0" y="767" width="10" height="10" fill="#c0c0c0"/>
<rect x="790.0" y="767" width="10" height="10" fill="#c0c0c0"/>
<rect x="800.0" y="767" width="10" height="10" fill="#f0f0f0"/>
<rect x="810.0" y="767" width="10" height="10" fill="#c0c0c0"/>
<rect x="969.0" y="767" width="10" height="10" fill="#cccccc"/>
<rect x="979.0" y="767" width="10" height="10" fill="#cccccc"/>
<rect x="989.0" y="767" width="10" height="10" fill="#a0a0a0"/>
<rect x="999.0" y="767" width="10" height="10" fill="#e0e0e0"/>
<rect x="1009.0" y="767" width="10" height="10" fill="#f4f4f4"/>
<rect x="1019.0" y="767" width="10" height="10" fill="#d0d0d0"/>
<rect x="1029.0" y="767" width="10" height="10" fill="#f0f0f0"/>
<rect x="1039.0" y="767" width="10" height="10" fill="#f0f0f0"/>
<rect x="1049.0" y="767" width="10" height="10" fill="#b4b4b4"/>
<rect x="1059.0" y="767" width="10" height="10" fill="#b4b4b4"/>
<rect x="1069.0" y="767" width="10" height="10" fill="#e8e8e8"/>
<rect x="1079.0" y="767" width="10" height="10" fill="#b4b4b4"/>
<rect x="381.0" y="787" width="9" height="10" fill="#d8d8d8"/>
<rect x="390.0" y="787" width="10" height="10" fill="#b0b0b0"/>
<rect x="400.0" y="787" width="10" height="10" fill="#f0f0f0"/>
<rect x="430.0" y="787" width="10" height="10" fill="#e6e6e6"/>
<rect x="440.0" y="787" width="10" height="10" fill="#a8a8a8"/>
<rect x="450.0" y="787" width="10" height="10" fill="#cccccc"/>
<rect x="460.0" y="787" width="10" height="10" fill="#d8d8d8"/>
<rect x="470.0" y="787" width="10" height="10" fill="#cccccc"/>
<rect x="480.0" y="787" width="10" height="10" fill="#f0f0f0"/>
<rect x="490.0" y="787" width="10" height="10" fill="#cccccc"/>
<rect x="540.0" y="787" width="10" height="10" fill="#f0f0f0"/>
<rect x="550.0" y="787" width="10" height="10" fill="#b0b0b0"/>
<rect x="560.0" y="787" width="10" height="10" fill="#c0c0c0"/>
<rect x="590.0" y="787" width="10" height="10" fill="#e6e6e6"/>
<rect x="640.0" y="787" width="10" height="10" fill="#f0f0f0"/>
<rect x="650.0" y="787" width="10" height="10" fill="#dcdcdc"/>
<rect x="710.0" y="787" width="10" height="10" fill="#d0d0d0"/>
<rect x="730.0" y="787" width="10" height="10" fill="#f4f4f4"/>
<rect x="760.0" y="787" width="10" height="10" fill="#c0c0c0"/>
<rect x="770.0" y="787" width="10" height="10" fill="#c8c8c8"/>
<rect x="860.0" y="787" width="10" height="10" fill="#d0d0d0"/>
<rect x="870.0" y="787" width="10" height="10" fill="#f0f0f0"/>
<rect x="880.0" y="787" width="10" height="10" fill="#dcdcdc"/>
<rect x="890.0" y="787" width="10" height="10" fill="#dcdcdc"/>
<rect x="900.0" y="787" width="10" height="10" fill="#a0a0a0"/>
<rect x="910.0" y="787" width="10" height="10" fill="#d8d8d8"/>
<rect x="989.0" y="787" width="10" height="10" fill="#b4b4b4"/>
<rect x="1179.0" y="787" width="10" height="10" fill="#c8c8c8"/>
<rect x="1189.0" y="787" width="10" height="10" fill="#f0f0f0"/>
<rect x="1249.0" y="787" width="10" height="10" fill="#f8f8f8"/>
<rect x="1519.0" y="787" width="10" height="10" fill="#e6e6e6"/>
<rect x="1529.0" y="787" width="10" height="10" fill="#f4f4f4"/>
<rect x="1689.0" y="787" width="10" height="10" fill="#e8e8e8"/>
<rect x="381.0" y="797" width="9" height="10" fill="#808080"/>
<rect x="390.0" y="797" width="10" height="10" fill="#505050"/>
<rect x="400.0" y="797" width="10" height="10" fill="#f0f0f0"/>
<rect x="430.0" y="797" width="10" height="10" fill="#e6e6e6"/>
<rect x="440.0" y="797" width="10" height="10" fill="#f8f8f8"/>
<rect x="450.0" y="797" width="10" height="10" fill="#b8b8b8"/>
<rect x="460.0" y="797" width="10" height="10" fill="#a0a0a0"/>
<rect x="470.0" y="797" width="10" height="10" fill="#555555"/>
<rect x="480.0" y="797" width="10" height="10" fill="#f0f0f0"/>
<rect x="490.0" y="797" width="10" height="10" fill="#b0b0b0"/>
<rect x="530.0" y="797" width="10" height="10" fill="#f4f4f4"/>
<rect x="540.0" y="797" width="10" height="10" fill="#c0c0c0"/>
<rect x="550.0" y="797" width="10" height="10" fill="#8c8c8c"/>
<rect x="560.0" y="797" width="10" height="10" fill="#808080"/>
<rect x="580.0" y="797" width="10" height="10" fill="#e6e6e6"/>
<rect x="590.0" y="797" width="10" height="10" fill="#888888"/>
<rect x="600.0" y="797" width="10" height="10" fill="#999999"/>
<rect x="610.0" y="797" width="10" height="10" fill="#888888"/>
<rect x="620.0" y="797" width="10" height="10" fill="#a0a0a0"/>
<rect x="640.0" y="797" width="10" height="10" fill="#8c8c8c"/>
<rect x="650.0" y="797" width="10" height="10" fill="#dcdcdc"/>
<rect x="680.0" y="797" width="10" height="10" fill="#a0a0a0"/>
<rect x="690.0" y="797" width="10" height="10" fill="#cccccc"/>
<rect x="700.0" y="797" width="10" height="10" fill="#d8d8d8"/>
<rect x="710.0" y="797" width="10" height="10" fill="#888888"/>
<rect x="720.0" y="797" width="10" height="10" fill="#f0f0f0"/>
<rect x="730.0" y="797" width="10" height="10" fill="#bbbbbb"/>
<rect x="750.0" y="797" width="10" height="10" fill="#f0f0f0"/>
<rect x="760.0" y="797" width="10" height="10" fill="#a8a8a8"/>
<rect x="770.0" y="797" width="10" height="10" fill="#b0b0b0"/>
<rect x="780.0" y="797" width="10" height="10" fill="#a0a0a0"/>
<rect x="790.0" y="797" width="10" height="10" fill="#777777"/>
<rect x="800.0" y="797" width="10" height="10" fill="#999999"/>
<rect x="810.0" y="797" width="10" height="10" fill="#f6f6f6"/>
<rect x="860.0" y="797" width="10" height="10" fill="#b0b0b0"/>
<rect x="870.0" y="797" width="10" height="10" fill="#f0f0f0"/>
<rect x="890.0" y="797" width="10" height="10" fill="#e8e8e8"/>
<rect x="900.0" y="797" width="10" height="10" fill="#777777"/>
<rect x="910.0" y="797" width="10" height="10" fill="#888888"/>
<rect x="989.0" y="797" width="10" height="10" fill="#a0a0a0"/>
<rect x="1129.0" y="797" width="10" height="10" fill="#dcdcdc"/>
<rect x="1139.0" y="797" width="10" height="10" fill="#e8e8e8"/>
<rect x="1159.0" y="797" width="10" height="10" fill="#d8d8d8"/>
<rect x="1169.0" y="797" width="10" height="10" fill="#888888"/>
<rect x="1179.0" y="797" width="10" height="10" fill="#a4a4a4"/>
<rect x="1189.0" y="797" width="10" height="10" fill="#e8e8e8"/>
<rect x="1199.0" y="797" width="10" height="10" fill="#bdbdbd"/>
<rect x="1239.0" y="797" width="10" height="10" fill="#f4f4f4"/>
<rect x="1249.0" y="797" width="10" height="10" fill="#e8e8e8"/>
<rect x="1369.0" y="797" width="10" height="10" fill="#b4b4b4"/>
<rect x="1379.0" y="797" width="10" height="10" fill="#c8c8c8"/>
<rect x="1429.0" y="797" width="10" height="10" fill="#ececec"/>
<rect x="1439.0" y="797" width="10" height="10" fill="#cccccc"/>
<rect x="1519.0" y="797" width="10" height="10" fill="#d0d0d0"/>
<rect x="1529.0" y="797" width="10" height="10" fill="#d8d8d8"/>
<rect x="1679.0" y="797" width="10" height="10" fill="#f6f6f6"/>
<rect x="1689.0" y="797" width="10" height="10" fill="#c8c8c8"/>
<rect x="570.0" y="807" width="10" height="10" fill="#f3f3f3"/>
<rect x="580.0" y="807" width="10" height="10" fill="#f3f3f3"/>
<rect x="590.0" y="807" width="10" height="10" fill="#f0f0f0"/>
<rect x="600.0" y="807" width="10" height="10" fill="#f5f5f5"/>
<rect x="610.0" y="807" width="10" height="10" fill="#f3f3f3"/>
<rect x="620.0" y="807" width="10" height="10" fill="#f3f3f3"/>
<rect x="630.0" y="807" width="10" height="10" fill="#f0f0f0"/>
<rect x="640.0" y="807" width="10" height="10" fill="#f3f3f3"/>
<rect x="650.0" y="807" width="10" height="10" fill="#f3f3f3"/>
<rect x="660.0" y="807" width="10" height="10" fill="#f5f5f5"/>
<rect x="670.0" y="807" width="10" height="10" fill="#f3f3f3"/>
<rect x="750.0" y="807" width="10" height="10" fill="#f0f0f0"/>
<rect x="989.0" y="807" width="10" height="10" fill="#ececec"/>
<rect x="1009.0" y="807" width="10" height="10" fill="#f8f8f8"/>
<rect x="1019.0" y="807" width="10" height="10" fill="#f8f8f8"/>
<rect x="1059.0" y="807" width="10" height="10" fill="#f0f0f0"/>
<rect x="570.0" y="817" width="10" height="10" fill="#e8e8e8"/>
<rect x="580.0" y="817" width="10" height="10" fill="#e0e0e0"/>
<rect x="590.0" y="817" width="10" height="10" fill="#c8c8c8"/>
<rect x="600.0" y="817" width="10" height="10" fill="#f8f8f8"/>
<rect x="610.0" y="817" width="10" height="10" fill="#dcdcdc"/>
<rect x="620.0" y="817" width="10" height="10" fill="#dcdcdc"/>
<rect x="630.0" y="817" width="10" height="10" fill="#bdbdbd"/>
<rect x="640.0" y="817" width="10" height="10" fill="#e0e0e0"/>
<rect x="650.0" y="817" width="10" height="10" fill="#cccccc"/>
<rect x="660.0" y="817" width="10" height="10" fill="#ececec"/>
<rect x="670.0" y="817" width="10" height="10" fill="#cccccc"/>
<rect x="750.0" y="817" width="10" height="10" fill="#b8b8b8"/>
<rect x="770.0" y="817" width="10" height="10" fill="#e0e0e0"/>
<rect x="780.0" y="817" width="10" height="10" fill="#e0e0e0"/>
<rect x="790.0" y="817" width="10" height="10" fill="#d4d4d4"/>
<rect x="800.0" y="817" width="10" height="10" fill="#f0f0f0"/>
<rect x="810.0" y="817" width="10" height="10" fill="#f0f0f0"/>
<rect x="989.0" y="817" width="10" height="10" fill="#b4b4b4"/>
<rect x="999.0" y="817" width="10" height="10" fill="#ececec"/>
<rect x="1019.0" y="817" width="10" height="10" fill="#dcdcdc"/>
<rect x="1029.0" y="817" width="10" height="10" fill="#f0f0f0"/>
<rect x="1049.0" y="817" width="10" height="10" fill="#f0f0f0"/>
<rect x="1059.0" y="817" width="10" height="10" fill="#c4c4c4"/>
<rect x="1069.0" y="817" width="10" height="10" fill="#ececec"/>
<rect x="1079.0" y="817" width="10" height="10" fill="#f0f0f0"/>
<rect x="381.0" y="837" width="9" height="10" fill="#e6e6e6"/>
<rect x="400.0" y="837" width="10" height="10" fill="#c0c0c0"/>
<rect x="410.0" y="837" width="10" height="10" fill="#dcdcdc"/>
<rect x="420.0" y="837" width="10" height="10" fill="#dcdcdc"/>
<rect x="430.0" y="837" width="10" height="10" fill="#b8b8b8"/>
<rect x="440.0" y="837" width="10" height="10" fill="#a8a8a8"/>
<rect x="460.0" y="837" width="10" height="10" fill="#f0f0f0"/>
<rect x="470.0" y="837" width="10" height="10" fill="#ececec"/>
<rect x="530.0" y="837" width="10" height="10" fill="#f0f0f0"/>
<rect x="540.0" y="837" width="10" height="10" fill="#f0f0f0"/>
<rect x="580.0" y="837" width="10" height="10" fill="#c0c0c0"/>
<rect x="590.0" y="837" width="10" height="10" fill="#c8c8c8"/>
<rect x="600.0" y="837" width="10" height="10" fill="#b8b8b8"/>
<rect x="610.0" y="837" width="10" height="10" fill="#c0c0c0"/>
<rect x="630.0" y="837" width="10" height="10" fill="#d0d0d0"/>
<rect x="640.0" y="837" width="10" height="10" fill="#d0d0d0"/>
<rect x="650.0" y="837" width="10" height="10" fill="#a0a0a0"/>
<rect x="660.0" y="837" width="10" height="10" fill="#c0c0c0"/>
<rect x="670.0" y="837" width="10" height="10" fill="#aaaaaa"/>
<rect x="690.0" y="837" width="10" height="10" fill="#d0d0d0"/>
<rect x="700.0" y="837" width="10" height="10" fill="#d8d8d8"/>
<rect x="750.0" y="837" width="10" height="10" fill="#e8e8e8"/>
<rect x="760.0" y="837" width="10" height="10" fill="#8c8c8c"/>
<rect x="770.0" y="837" width="10" height="10" fill="#b0b0b0"/>
<rect x="780.0" y="837" width="10" height="10" fill="#cccccc"/>
<rect x="790.0" y="837" width="10" height="10" fill="#a8a8a8"/>
<rect x="800.0" y="837" width="10" height="10" fill="#a8a8a8"/>
<rect x="810.0" y="837" width="10" height="10" fill="#f6f6f6"/>
<rect x="860.0" y="837" width="10" height="10" fill="#b4b4b4"/>
<rect x="870.0" y="837" width="10" height="10" fill="#f0f0f0"/>
<rect x="890.0" y="837" width="10" height="10" fill="#ececec"/>
<rect x="900.0" y="837" width="10" height="10" fill="#ececec"/>
<rect x="989.0" y="837" width="10" height="10" fill="#a8a8a8"/>
<rect x="1120.0" y="837" width="10" height="10" fill="#bbbbbb"/>
<rect x="1129.0" y="837" width="10" height="10" fill="#999999"/>
<rect x="1139.0" y="837" width="10" height="10" fill="#cccccc"/>
<rect x="1159.0" y="837" width="10" height="10" fill="#e6e6e6"/>
<rect x="1169.0" y="837" width="10" height="10" fill="#999999"/>
<rect x="1179.0" y="837" width="10" height="10" fill="#d4d4d4"/>
<rect x="1239.0" y="837" width="10" height="10" fill="#e6e6e6"/>
<rect x="1249.0" y="837" width="10" height="10" fill="#c0c0c0"/>
<rect x="1299.0" y="837" width="10" height="10" fill="#d4d4d4"/>
<rect x="1309.0" y="837" width="10" height="10" fill="#c0c0c0"/>
<rect x="1319.0" y="837" width="10" height="10" fill="#8c8c8c"/>
<rect x="1329.0" y="837" width="10" height="10" fill="#aaaaaa"/>
<rect x="1339.0" y="837" width="10" height="10" fill="#e8e8e8"/>
<rect x="1369.0" y="837" width="10" height="10" fill="#f0f0f0"/>
<rect x="1379.0" y="837" width="10" height="10" fill="#f4f4f4"/>
<rect x="1429.0" y="837" width="10" height="10" fill="#c0c0c0"/>
<rect x="1439.0" y="837" width="10" height="10" fill="#999999"/>
<rect x="1449.0" y="837" width="10" height="10" fill="#ececec"/>
<rect x="1519.0" y="837" width="10" height="10" fill="#d4d4d4"/>
<rect x="1529.0" y="837" width="10" height="10" fill="#e4e4e4"/>
<rect x="1539.0" y="837" width="10" height="10" fill="#e8e8e8"/>
<rect x="400" y="847" width="10" height="6" fill="#f4f4f4"/>
<rect x="430" y="847" width="10" height="6" fill="#f3f3f3"/>
<rect x="440" y="847" width="10" height="6" fill="#f2f2f2"/>
<rect x="580" y="847" width="10" height="6" fill="#f4f4f4"/>
<rect x="600" y="847" width="10" height="6" fill="#f3f3f3"/>
<rect x="650" y="847" width="10" height="6" fill="#f2f2f2"/>
<rect x="670" y="847" width="10" height="6" fill="#f3f3f3"/>
<rect x="760" y="847" width="10" height="6" fill="#f2f2f2"/>
<rect x="790" y="847" width="10" height="6" fill="#f3f3f3"/>
<rect x="989" y="847" width="10" height="6" fill="#f3f3f3"/>
<rect x="1169" y="847" width="10" height="6" fill="#f4f4f4"/>
<rect x="1319" y="847" width="10" height="6" fill="#f2f2f2"/>
<rect x="1439" y="847" width="10" height="6" fill="#f3f3f3"/>
<path d="M378.5 751Q381 749 381.5 752L379 758H382" fill="none" stroke="#444" stroke-width="1.2"/>
<path d="M378.5 791Q381 789 381.5 792L379 798H382" fill="none" stroke="#444" stroke-width="1.2"/>
<path d="M378.5 841Q381 839 381.5 842L379 848H382" fill="none" stroke="#444" stroke-width="1.2"/>
</svg>
<div class="abs" style="left:1738px;top:742px;width:17px;height:111px;background:#f1f1f1"></div>
<div class="abs" style="left:1740px;top:759px;width:13px;height:17px;background:#c1c1c1"></div>
<svg class="abs" style="left:1742px;top:748px" width="9" height="6" viewBox="0 0 9 6"><path d="M0 5L4.5 0.5L9 5Z" fill="#a3a3a3"/></svg>
<svg class="abs" style="left:1742px;top:841px" width="9" height="6" viewBox="0 0 9 6"><path d="M0 0.5L4.5 5L9 0.5Z" fill="#505050"/></svg>
<div class="abs" style="left:373px;top:853px;width:1365px;height:16px;background:#f1f1f1"></div>
<div class="abs" style="left:1738px;top:853px;width:17px;height:16px;background:#dcdcdc"></div>
<div class="abs" style="left:390px;top:855px;width:1137px;height:13px;background:#c1c1c1"></div>
<svg class="abs" style="left:377px;top:856.5px" width="6" height="9" viewBox="0 0 6 9"><path d="M5 0L0.5 4.5L5 9Z" fill="#a3a3a3"/></svg>
<svg class="abs" style="left:1727px;top:856.5px" width="6" height="9" viewBox="0 0 6 9"><path d="M0.5 0L5 4.5L0.5 9Z" fill="#505050"/></svg>
<div class="abs" style="left:1642.5px;top:876.5px;width:112px;height:29px;border:1px solid #dedede;border-radius:4px;background:#fff;overflow:hidden"><div class="abs" style="left:0;top:0;width:26px;height:27px;background:#f5f5f5;border-right:1px solid #dedede"></div><div class="abs" style="left:54px;top:0;width:1px;height:27px;background:#dedede"></div><div class="abs" style="left:82px;top:0;width:1px;height:27px;background:#dedede"></div><div class="t pg" style="left:0;width:26px;color:#999">1</div><div class="t pg" style="left:26px;width:28px">2</div><div class="t pg" style="left:55px;width:27px">3</div><div class="t pg" style="left:83px;width:28px">4</div></div>
<div class="abs" style="left:1854px;top:13px;width:32px;height:32px;border-radius:5px;background:#dde1e5"></div>
<div class="abs" style="left:1862.5px;top:21.5px;width:15px;height:15px;border-radius:50%;background:#525c69;color:#fff;font-weight:bold;font-size:11.5px;line-height:15px;text-align:center;font-family:'Liberation Sans',sans-serif">?</div>
<div class="abs" style="left:1849px;top:61px;width:43px;height:1px;background:#dde2e6"></div>
<div class="abs" style="left:1849px;top:216px;width:43px;height:1px;background:#dde2e6"></div>
<div class="abs" style="left:1849px;top:254px;width:43px;height:1px;background:#dde2e6"></div>
<div class="abs" style="left:1854px;top:75.7px;width:34px;height:34px;border-radius:50%;background:#dfe3e7"></div>
<div class="abs" style="left:1854px;top:121.69999999999999px;width:34px;height:34px;border-radius:50%;background:#dfe3e7"></div>
<div class="abs" style="left:1854px;top:167.9px;width:34px;height:34px;border-radius:50%;background:#dfe3e7"></div>
<svg class="abs" style="left:1837px;top:0px" width="82" height="966" viewBox="1837 0 82 966">
<path d="M1876.49 88.01A7.9 7.9 0 1 0 1878.72 94.70" fill="none" stroke="#525c69" stroke-width="2" stroke-linecap="round"/>
<circle cx="1871.2" cy="93.4" r="5.4" fill="#525c69"/>
<path d="M1870.1 89.6Q1870.5 92.3 1873.2 92.7Q1870.5 93.1 1870.1 95.8Q1869.7 93.1 1867 92.7Q1869.7 92.3 1870.1 89.6Z" fill="#dfe3e7"/>
<path d="M1873.3 94.3Q1873.5 95.7 1874.9 95.9Q1873.5 96.1 1873.3 97.5Q1873.1 96.1 1871.7 95.9Q1873.1 95.7 1873.3 94.3Z" fill="#dfe3e7"/>
<path d="M1864 143.5H1878.2L1876.3 141V136.5Q1876.3 131.2 1871 130.8Q1865.9 131.2 1865.9 136.5V141Z" fill="#525c69"/>
<path d="M1868.6 145.2H1873.4Q1873 147.2 1871 147.2Q1869 147.2 1868.6 145.2Z" fill="#525c69"/>
<path d="M1877.6 190.2A8.3 8.3 0 1 0 1875 192.3L1878.8 193.2Z" fill="none" stroke="#525c69" stroke-width="2" stroke-linejoin="round"/>
<path d="M1867 182.5H1875M1867 182.5L1869 180.6M1875 187.2H1867M1875 187.2L1873 189.1" fill="none" stroke="#525c69" stroke-width="1.4"/>
<circle cx="1869.8" cy="234.3" r="5.7" fill="none" stroke="#525c69" stroke-width="2.2"/>
<path d="M1873.8 238.5L1879.6 244.5" stroke="#525c69" stroke-width="2.4" stroke-linecap="round"/>
<rect x="1850" y="269.6" width="10" height="10" fill="#eddde6"/>
<rect x="1860" y="269.6" width="10" height="10" fill="#f2b0c8"/>
<rect x="1870" y="269.6" width="10" height="10" fill="#f3a8c4"/>
<rect x="1880" y="269.6" width="10" height="10" fill="#efd5df"/>
<rect x="1850" y="279.6" width="10" height="10" fill="#f2c8d8"/>
<rect x="1860" y="279.6" width="10" height="10" fill="#f5c5d5"/>
<rect x="1870" y="279.6" width="10" height="10" fill="#f4aac2"/>
<rect x="1880" y="279.6" width="10" height="10" fill="#f2a5bd"/>
<rect x="1850" y="289.6" width="10" height="10" fill="#f2d5e0"/>
<rect x="1860" y="289.6" width="10" height="10" fill="#f2a2bd"/>
<rect x="1870" y="289.6" width="10" height="10" fill="#f6d0de"/>
<rect x="1880" y="289.6" width="10" height="10" fill="#f2b8cc"/>
<rect x="1860" y="299.6" width="10" height="10" fill="#f0d5df"/>
<rect x="1870" y="299.6" width="10" height="10" fill="#f2c8d5"/>
<rect x="1850" y="319.4" width="10" height="10" fill="#eceeef"/>
<rect x="1860" y="319.4" width="10" height="10" fill="#9e9a98"/>
<rect x="1870" y="319.4" width="10" height="10" fill="#a08f80"/>
<rect x="1880" y="319.4" width="10" height="10" fill="#eff0f1"/>
<rect x="1850" y="329.4" width="10" height="10" fill="#eff0f1"/>
<rect x="1860" y="329.4" width="10" height="10" fill="#c0aba4"/>
<rect x="1870" y="329.4" width="10" height="10" fill="#d9bdb4"/>
<rect x="1880" y="329.4" width="10" height="10" fill="#eff0f1"/>
<rect x="1860" y="339.4" width="10" height="10" fill="#bbb0b0"/>
<rect x="1870" y="339.4" width="10" height="10" fill="#d2c2b3"/>
<rect x="1860" y="349.4" width="10" height="10" fill="#e6e9ea"/>
<rect x="1870" y="349.4" width="10" height="10" fill="#eceeee"/>
<rect x="1860" y="358.7" width="10" height="10" fill="#a8abb2"/>
<rect x="1870" y="358.7" width="10" height="10" fill="#8f93a0"/>
<rect x="1850" y="368.7" width="10" height="10" fill="#d8e0ea"/>
<rect x="1860" y="368.7" width="10" height="10" fill="#c09a9c"/>
<rect x="1870" y="368.7" width="10" height="10" fill="#c8a2a0"/>
<rect x="1880" y="368.7" width="10" height="10" fill="#b8c8dc"/>
<rect x="1850" y="378.7" width="10" height="10" fill="#d0dae2"/>
<rect x="1860" y="378.7" width="10" height="10" fill="#b8aab0"/>
<rect x="1870" y="378.7" width="10" height="10" fill="#c0a4a6"/>
<rect x="1880" y="378.7" width="10" height="10" fill="#a8b8cc"/>
<rect x="1850" y="388.7" width="10" height="10" fill="#e8eaec"/>
<rect x="1860" y="388.7" width="10" height="10" fill="#e6e6e8"/>
<rect x="1870" y="388.7" width="10" height="10" fill="#e8e8ea"/>
<rect x="1880" y="388.7" width="10" height="10" fill="#e6e8ea"/>
<rect x="1850" y="408.5" width="10" height="10" fill="#e6e8f5"/>
<rect x="1860" y="408.5" width="10" height="10" fill="#b0b8ee"/>
<rect x="1870" y="408.5" width="10" height="10" fill="#9cb4ea"/>
<rect x="1880" y="408.5" width="10" height="10" fill="#e0dcf0"/>
<rect x="1850" y="418.5" width="10" height="10" fill="#d8cdee"/>
<rect x="1860" y="418.5" width="10" height="10" fill="#c4ade8"/>
<rect x="1870" y="418.5" width="10" height="10" fill="#d8b8dc"/>
<rect x="1880" y="418.5" width="10" height="10" fill="#d898b8"/>
<rect x="1850" y="428.5" width="10" height="10" fill="#e8dcec"/>
<rect x="1860" y="428.5" width="10" height="10" fill="#e8c0b8"/>
<rect x="1870" y="428.5" width="10" height="10" fill="#f4b890"/>
<rect x="1880" y="428.5" width="10" height="10" fill="#f0d0d0"/>
<rect x="1850" y="458.2" width="10" height="10" fill="#ebeaea"/>
<rect x="1860" y="458.2" width="10" height="10" fill="#e2d8d5"/>
<rect x="1870" y="458.2" width="10" height="10" fill="#d4cdcb"/>
<rect x="1880" y="458.2" width="10" height="10" fill="#d0cccc"/>
<rect x="1850" y="468.2" width="10" height="10" fill="#ededee"/>
<rect x="1860" y="468.2" width="10" height="10" fill="#b0a49e"/>
<rect x="1870" y="468.2" width="10" height="10" fill="#8a8480"/>
<rect x="1880" y="468.2" width="10" height="10" fill="#c4bcba"/>
<rect x="1860" y="478.2" width="10" height="10" fill="#ece3b8"/>
<rect x="1870" y="478.2" width="10" height="10" fill="#e8dc9c"/>
<rect x="1850" y="498.4" width="10" height="10" fill="#efdcdc"/>
<rect x="1860" y="498.4" width="10" height="10" fill="#f2c4bc"/>
<rect x="1870" y="498.4" width="10" height="10" fill="#f2c6be"/>
<rect x="1880" y="498.4" width="10" height="10" fill="#f0c8c4"/>
<rect x="1850" y="508.4" width="10" height="10" fill="#f2c8c4"/>
<rect x="1860" y="508.4" width="10" height="10" fill="#f2bcb4"/>
<rect x="1870" y="508.4" width="10" height="10" fill="#f4d8d4"/>
<rect x="1880" y="508.4" width="10" height="10" fill="#ec9c88"/>
<rect x="1850" y="518.4" width="10" height="10" fill="#f2ccc8"/>
<rect x="1860" y="518.4" width="10" height="10" fill="#ec9880"/>
<rect x="1870" y="518.4" width="10" height="10" fill="#ec9884"/>
<rect x="1880" y="518.4" width="10" height="10" fill="#ec9c8a"/>
<rect x="1860" y="528.4" width="10" height="10" fill="#f0c8c4"/>
<rect x="1870" y="528.4" width="10" height="10" fill="#f0b4ac"/>
<rect x="1860" y="538.7" width="10" height="10" fill="#e6e6e6"/>
<rect x="1870" y="538.7" width="10" height="10" fill="#e6e2e2"/>
<rect x="1850" y="548.7" width="10" height="10" fill="#e4dcdc"/>
<rect x="1860" y="548.7" width="10" height="10" fill="#e6dcdc"/>
<rect x="1870" y="548.7" width="10" height="10" fill="#e8e0de"/>
<rect x="1880" y="548.7" width="10" height="10" fill="#d8c8c4"/>
<rect x="1850" y="558.7" width="10" height="10" fill="#e0d8d8"/>
<rect x="1860" y="558.7" width="10" height="10" fill="#ece4e2"/>
<rect x="1870" y="558.7" width="10" height="10" fill="#f8f8f8"/>
<rect x="1880" y="558.7" width="10" height="10" fill="#d4bcb4"/>
<rect x="1850" y="568.7" width="10" height="10" fill="#e0dcdc"/>
<rect x="1860" y="568.7" width="10" height="10" fill="#d8c4c0"/>
<rect x="1870" y="568.7" width="10" height="10" fill="#dcc8c4"/>
<rect x="1880" y="568.7" width="10" height="10" fill="#dccac8"/>
<rect x="1860" y="588.5" width="10" height="10" fill="#c0d4e0"/>
<rect x="1870" y="588.5" width="10" height="10" fill="#a8c8d8"/>
<rect x="1850" y="598.5" width="10" height="10" fill="#c8dce6"/>
<rect x="1860" y="598.5" width="10" height="10" fill="#c4d4dc"/>
<rect x="1870" y="598.5" width="10" height="10" fill="#b4b4b8"/>
<rect x="1880" y="598.5" width="10" height="10" fill="#a4c4d8"/>
<rect x="1850" y="608.5" width="10" height="10" fill="#c8dce6"/>
<rect x="1860" y="608.5" width="10" height="10" fill="#b4c4cc"/>
<rect x="1870" y="608.5" width="10" height="10" fill="#b0b0b8"/>
<rect x="1880" y="608.5" width="10" height="10" fill="#a4bccc"/>
<rect x="1850" y="618.5" width="10" height="10" fill="#e4ecf0"/>
<rect x="1860" y="618.5" width="10" height="10" fill="#dfe6ee"/>
<rect x="1870" y="618.5" width="10" height="10" fill="#d4d8dc"/>
<rect x="1880" y="618.5" width="10" height="10" fill="#dce4ee"/>
<rect x="1850" y="637.4" width="10" height="10" fill="#e6eef0"/>
<rect x="1860" y="637.4" width="10" height="10" fill="#a4dcd8"/>
<rect x="1870" y="637.4" width="10" height="10" fill="#74ccc8"/>
<rect x="1880" y="637.4" width="10" height="10" fill="#d8eeee"/>
<rect x="1850" y="647.4" width="10" height="10" fill="#b8e2e4"/>
<rect x="1860" y="647.4" width="10" height="10" fill="#90d4d0"/>
<rect x="1870" y="647.4" width="10" height="10" fill="#c0e8e8"/>
<rect x="1880" y="647.4" width="10" height="10" fill="#80d0cc"/>
<rect x="1850" y="657.4" width="10" height="10" fill="#c8e8e8"/>
<rect x="1860" y="657.4" width="10" height="10" fill="#b4e4e2"/>
<rect x="1870" y="657.4" width="10" height="10" fill="#b8e6e4"/>
<rect x="1880" y="657.4" width="10" height="10" fill="#b0e2e0"/>
<rect x="1860" y="667.4" width="10" height="10" fill="#d8eef0"/>
<rect x="1870" y="667.4" width="10" height="10" fill="#d0eeee"/>
<rect x="1850" y="687.6" width="10" height="10" fill="#f0f2f2"/>
<rect x="1860" y="687.6" width="10" height="10" fill="#d0b8b0"/>
<rect x="1870" y="687.6" width="10" height="10" fill="#dcb078"/>
<rect x="1880" y="687.6" width="10" height="10" fill="#f6f6f6"/>
<rect x="1850" y="697.6" width="10" height="10" fill="#eef0f2"/>
<rect x="1860" y="697.6" width="10" height="10" fill="#d0bcb4"/>
<rect x="1870" y="697.6" width="10" height="10" fill="#d4b8b0"/>
<rect x="1880" y="697.6" width="10" height="10" fill="#e8e4e2"/>
<rect x="1860" y="707.6" width="10" height="10" fill="#d4ccd4"/>
<rect x="1870" y="707.6" width="10" height="10" fill="#b4a8bc"/>
<rect x="1880" y="707.6" width="10" height="10" fill="#e6e4e2"/>
<rect x="1860" y="717.6" width="10" height="10" fill="#eceef2"/>
<rect x="1870" y="717.6" width="10" height="10" fill="#eceef0"/>
<rect x="1850" y="728.0" width="10" height="10" fill="#eceef0"/>
<rect x="1860" y="728.0" width="10" height="10" fill="#d0d8e4"/>
<rect x="1870" y="728.0" width="10" height="10" fill="#d0d6de"/>
<rect x="1880" y="728.0" width="10" height="10" fill="#e6eaee"/>
<rect x="1850" y="738.0" width="10" height="10" fill="#d8dce4"/>
<rect x="1860" y="738.0" width="10" height="10" fill="#a8a4b0"/>
<rect x="1870" y="738.0" width="10" height="10" fill="#b0a4a4"/>
<rect x="1880" y="738.0" width="10" height="10" fill="#c0d4e0"/>
<rect x="1850" y="748.0" width="10" height="10" fill="#d8d8e0"/>
<rect x="1860" y="748.0" width="10" height="10" fill="#a8a4b8"/>
<rect x="1870" y="748.0" width="10" height="10" fill="#a8a4b8"/>
<rect x="1880" y="748.0" width="10" height="10" fill="#c4c0c4"/>
<rect x="1860" y="758.0" width="10" height="10" fill="#e6e8ec"/>
<rect x="1870" y="758.0" width="10" height="10" fill="#e8e8ec"/>
<rect x="1860" y="768.0" width="10" height="10" fill="#e0eeee"/>
<rect x="1870" y="768.0" width="10" height="10" fill="#d8eeee"/>
<rect x="1850" y="778.0" width="10" height="10" fill="#d4ecee"/>
<rect x="1860" y="778.0" width="10" height="10" fill="#a4e0dc"/>
<rect x="1870" y="778.0" width="10" height="10" fill="#a8e2de"/>
<rect x="1880" y="778.0" width="10" height="10" fill="#bce6e6"/>
<rect x="1850" y="788.0" width="10" height="10" fill="#b8e4e4"/>
<rect x="1860" y="788.0" width="10" height="10" fill="#c0e8e8"/>
<rect x="1870" y="788.0" width="10" height="10" fill="#f4f8f8"/>
<rect x="1880" y="788.0" width="10" height="10" fill="#80d4d0"/>
<rect x="1850" y="798.0" width="10" height="10" fill="#cceaea"/>
<rect x="1860" y="798.0" width="10" height="10" fill="#cceaea"/>
<rect x="1870" y="798.0" width="10" height="10" fill="#ecf4f6"/>
<rect x="1880" y="798.0" width="10" height="10" fill="#a8e0de"/>
<rect x="1850" y="817.3" width="10" height="10" fill="#eceef0"/>
<rect x="1860" y="817.3" width="10" height="10" fill="#d8dadc"/>
<rect x="1870" y="817.3" width="10" height="10" fill="#e4e8ec"/>
<rect x="1880" y="817.3" width="10" height="10" fill="#eceef0"/>
<rect x="1850" y="827.3" width="10" height="10" fill="#d0d4d6"/>
<rect x="1860" y="827.3" width="10" height="10" fill="#989898"/>
<rect x="1870" y="827.3" width="10" height="10" fill="#b8acac"/>
<rect x="1880" y="827.3" width="10" height="10" fill="#a8acae"/>
<rect x="1850" y="837.3" width="10" height="10" fill="#e4e4e0"/>
<rect x="1860" y="837.3" width="10" height="10" fill="#a49c98"/>
<rect x="1870" y="837.3" width="10" height="10" fill="#8c7c80"/>
<rect x="1880" y="837.3" width="10" height="10" fill="#9c9fa0"/>
<rect x="1860" y="847.3" width="10" height="10" fill="#d4ccc8"/>
<rect x="1870" y="847.3" width="10" height="10" fill="#bcb4b4"/>
<rect x="1850" y="866.8" width="10" height="10" fill="#d8f0f4"/>
<rect x="1860" y="866.8" width="10" height="10" fill="#c4eef4"/>
<rect x="1870" y="866.8" width="10" height="10" fill="#c4eef4"/>
<rect x="1880" y="866.8" width="10" height="10" fill="#c8eef4"/>
<rect x="1850" y="876.8" width="10" height="10" fill="#e4f2f4"/>
<rect x="1860" y="876.8" width="10" height="10" fill="#e0f2e4"/>
<rect x="1870" y="876.8" width="10" height="10" fill="#e8f4f2"/>
<rect x="1880" y="876.8" width="10" height="10" fill="#d8eef4"/>
</svg>
<div class="abs" style="left:1844px;top:896px;width:52px;height:47px;border-radius:50%;background:#eef0f2;box-shadow:0 2px 5px rgba(0,0,0,0.12)"></div>
<svg class="abs" style="left:1860px;top:911px" width="20" height="16" viewBox="0 0 20 16"><circle cx="2.6" cy="3" r="1.6" fill="#a0a6ae"/><path d="M5.5 3H18.7M1 8H18.7M1 13H18.7" stroke="#a0a6ae" stroke-width="2"/></svg>
<svg class="abs" style="left:89px;top:157px" width="190" height="24" viewBox="89 157 190 24">
<rect x="91" y="159.3" width="10" height="10" fill="#f4f4f4"/>
<rect x="101" y="159.3" width="10" height="10" fill="#dcdcdc"/>
<rect x="111" y="159.3" width="10" height="10" fill="#c8c8c8"/>
<rect x="121" y="159.3" width="10" height="10" fill="#ececec"/>
<rect x="131" y="159.3" width="10" height="10" fill="#ececec"/>
<rect x="141" y="159.3" width="10" height="10" fill="#d0d0d0"/>
<rect x="151" y="159.3" width="10" height="10" fill="#f8f8f8"/>
<rect x="161" y="159.3" width="10" height="10" fill="#fafafa"/>
<rect x="181" y="159.3" width="10" height="10" fill="#fafafa"/>
<rect x="191" y="159.3" width="10" height="10" fill="#fafafa"/>
<rect x="201" y="159.3" width="10" height="10" fill="#fcfcfc"/>
<rect x="221" y="159.3" width="10" height="10" fill="#dcdcdc"/>
<rect x="231" y="159.3" width="10" height="10" fill="#d8d8d8"/>
<rect x="241" y="159.3" width="10" height="10" fill="#dcdcdc"/>
<rect x="251" y="159.3" width="10" height="10" fill="#ececec"/>
<rect x="261" y="159.3" width="10" height="10" fill="#fafafa"/>
<rect x="101" y="169.3" width="10" height="10" fill="#f4f4f4"/>
<rect x="111" y="169.3" width="10" height="10" fill="#ececec"/>
<rect x="121" y="169.3" width="10" height="10" fill="#909090"/>
<rect x="131" y="169.3" width="10" height="10" fill="#fcfcfc"/>
<rect x="141" y="169.3" width="10" height="10" fill="#c8c8c8"/>
<rect x="151" y="169.3" width="10" height="10" fill="#f4f4f4"/>
<rect x="161" y="169.3" width="10" height="10" fill="#e0e0e0"/>
<rect x="171" y="169.3" width="10" height="10" fill="#fafafa"/>
<rect x="181" y="169.3" width="10" height="10" fill="#f0f0f0"/>
<rect x="191" y="169.3" width="10" height="10" fill="#e6e6e6"/>
<rect x="201" y="169.3" width="10" height="10" fill="#f4f4f4"/>
<rect x="221" y="169.3" width="10" height="10" fill="#c8c8c8"/>
<rect x="231" y="169.3" width="10" height="10" fill="#dcdcdc"/>
<rect x="241" y="169.3" width="10" height="10" fill="#c4c4c4"/>
<rect x="251" y="169.3" width="10" height="10" fill="#dcdcdc"/>
<rect x="261" y="169.3" width="10" height="10" fill="#f8f8f8"/>
<rect x="271" y="169.3" width="10" height="10" fill="#fcfcfc"/>
</svg>
</body></html>
